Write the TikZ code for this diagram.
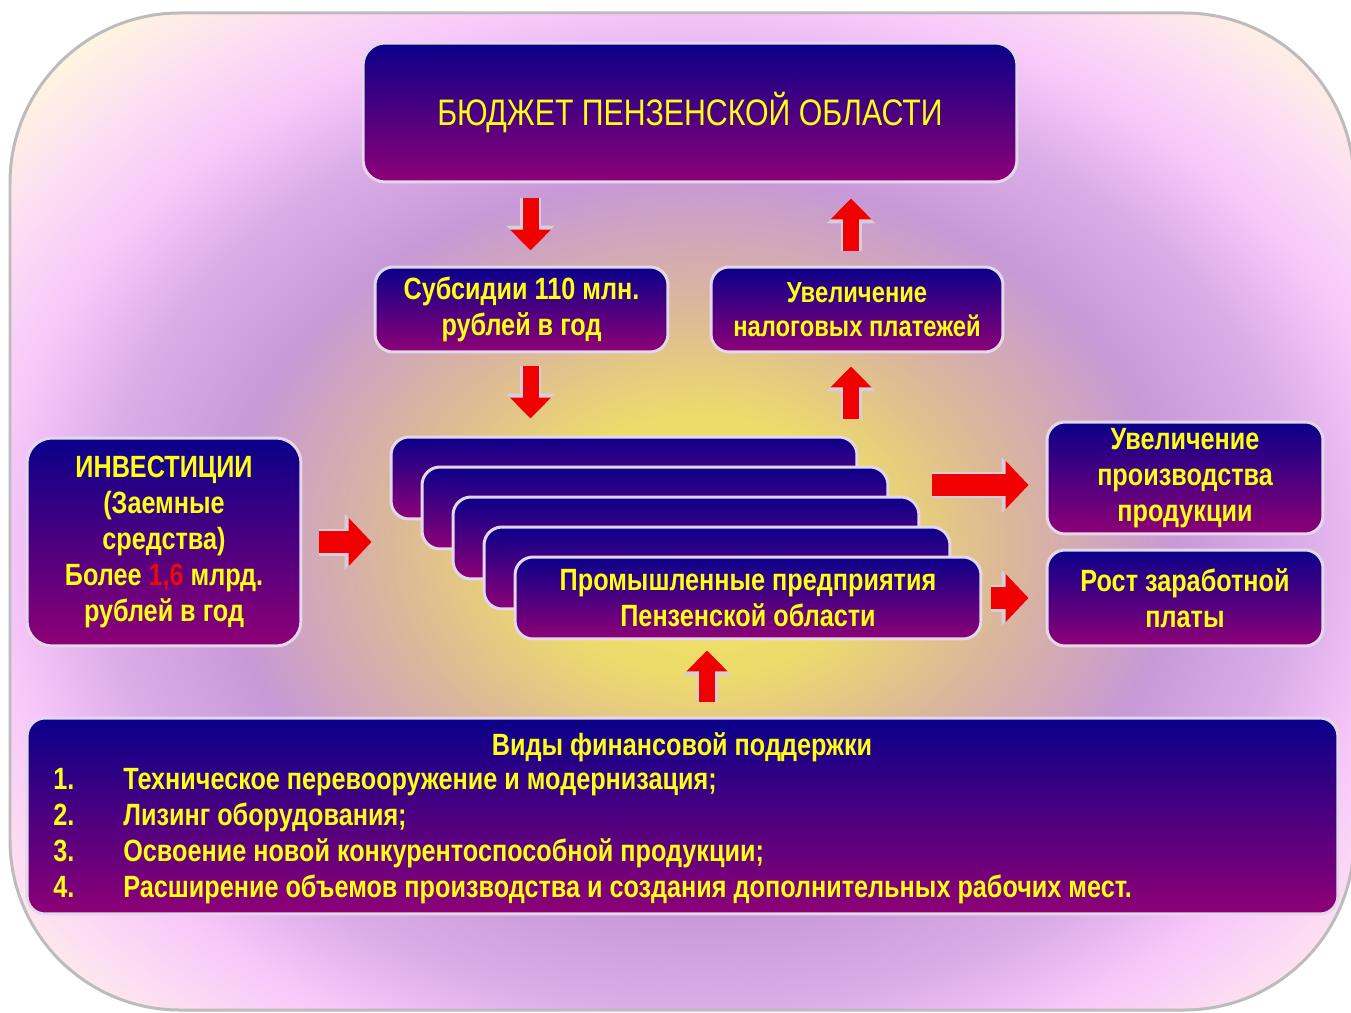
\documentclass[tikz,border=0pt]{standalone}
\usepackage{fontspec}
\setmainfont{Liberation Sans}[FakeStretch=0.82]
\usetikzlibrary{arrows.meta,positioning,calc}

\definecolor{boxtop}{RGB}{10,0,138}
\definecolor{boxbot}{RGB}{142,0,118}
\definecolor{boxedge}{RGB}{226,216,234}
\definecolor{boxtext}{RGB}{255,255,20}
\definecolor{numred}{RGB}{232,10,10}
\definecolor{arrowred}{RGB}{240,0,0}
\definecolor{arrowedge}{RGB}{214,206,220}
\definecolor{paneledge}{RGB}{188,188,188}

% glow behind the diagram, centre yellow, rim cream
\pgfdeclareradialshading{panelglow}{\pgfpoint{0bp}{0bp}}{%
  rgb(0bp)=(0.94,0.89,0.38);
  rgb(6bp)=(0.93,0.86,0.42);
  rgb(11bp)=(0.86,0.72,0.60);
  rgb(17bp)=(0.78,0.60,0.84);
  rgb(21.5bp)=(0.86,0.68,0.91);
  rgb(25bp)=(0.97,0.78,0.98);
  rgb(28.5bp)=(0.99,0.87,0.95);
  rgb(32bp)=(1,0.96,0.88);
  rgb(50bp)=(1,0.97,0.88)}

\begin{document}
\begin{tikzpicture}[x=0.02cm, y=-0.02cm,
				      every node/.style={align=center, inner sep=0pt},
				      infobox/.style={
						      draw=boxedge, line width=0.06cm, rounded corners=0.36cm,
						      top color=boxtop, bottom color=boxbot, text=boxtext,
						      font=\bfseries\fontsize{17.5}{20.5}\selectfont
					      },
				      stackbox/.style={infobox, minimum width=9.32cm, minimum height=1.64cm},
				      sidebox/.style={infobox, minimum width=5.52cm},
				      boxlabel/.style={text=boxtext, font=\bfseries\fontsize{17.5}{20.5}\selectfont},
				      blockarrow/.style={
						      arrowred, line width=0.32cm, -{Triangle[length=0.42cm, width=0.8cm]},
						      preaction={draw=arrowedge, line width=0.42cm, -{Triangle[length=0.5cm, width=0.94cm]}}
					      },
				      widearrow/.style={
						      arrowred, line width=0.44cm, -{Triangle[length=0.46cm, width=0.94cm]},
						      preaction={draw=arrowedge, line width=0.54cm, -{Triangle[length=0.54cm, width=1.08cm]}}
					      }
			      ]
			      \useasboundingbox (0,0) rectangle (1351,1013);

			      % Background panel
			      \begin{scope}
				      \clip[rounded corners=3.4cm] (10,13) rectangle (1354,1010);
				      \shade[shading=panelglow] (0,5) rectangle (1400,1085);
			      \end{scope}
			      \draw[paneledge, line width=0.06cm, rounded corners=3.4cm] (10,13) rectangle (1354,1010);

			      % Top row
			      \node[infobox, minimum width=13.08cm, minimum height=2.78cm, rounded corners=0.44cm,
				      font=\mdseries\fontsize{21}{25}\selectfont] (budget) at (690,112.5) {БЮДЖЕТ ПЕНЗЕНСКОЙ ОБЛАСТИ};
			      \node[infobox, minimum width=5.86cm, minimum height=1.7cm] (subs) at (521.5,309.5) {Субсидии 110 млн.\\рублей в год};
			      \node[infobox, minimum width=5.84cm, minimum height=1.7cm,
				      font=\bfseries\fontsize{16.5}{19.4}\selectfont] (tax) at (857,309.5) {Увеличение\\налоговых платежей};

			      % Enterprises stack
			      \node[stackbox] (st1) at (624,478) {};
			      \node[stackbox] (st2) at ($(st1)+(31,30)$) {};
			      \node[stackbox] (st3) at ($(st2)+(31,30)$) {};
			      \node[stackbox] (st4) at ($(st3)+(31,30)$) {};
			      \node[stackbox] (st5) at ($(st4)+(31,30)$) {Промышленные предприятия\\Пензенской области};

			      % Side boxes
			      \node[infobox, minimum width=5.48cm, minimum height=4.16cm, rounded corners=0.5cm] (invest) at (164,542)
				      {ИНВЕСТИЦИИ\\(Заемные\\средства)\\Более \textcolor{numred}{1,6} млрд.\\рублей в год};
			      \node[sidebox, minimum height=2.24cm] (prod) at (1185,478) {Увеличение\\производства\\продукции};
			      \node[sidebox, minimum height=1.92cm] (sal) at (1185,598) {Рост заработной\\платы};

			      % Support box
			      \node[infobox, minimum width=26.22cm, minimum height=3.92cm] (fin) at (682.5,816) {};
			      \node[boxlabel, anchor=base] (fintitle) at (682,755) {Виды финансовой поддержки};
			      \node[boxlabel, align=left, anchor=north west] (finlist) at (53,768)
				      {\makebox[1.4cm][l]{1.}Техническое перевооружение и модернизация;\\
					      \makebox[1.4cm][l]{2.}Лизинг оборудования;\\
					      \makebox[1.4cm][l]{3.}Освоение новой конкурентоспособной продукции;\\
					      \makebox[1.4cm][l]{4.}Расширение объемов производства и создания дополнительных рабочих мест.};

			      % Arrows
			      \draw[blockarrow, shorten <=0.3cm, shorten >=0.3cm] ([xshift=0.18cm]budget.south -| subs.north) -- ([xshift=0.18cm]subs.north);
			      \draw[blockarrow, shorten <=0.3cm, shorten >=0.3cm] ([xshift=-0.12cm]tax.north) -- ([xshift=-0.12cm]budget.south -| tax.north);
			      \draw[blockarrow, shorten <=0.26cm, shorten >=0.34cm] ([xshift=0.18cm]subs.south) -- ([xshift=0.18cm]st1.north -| subs.south);
			      \draw[blockarrow, shorten <=0.34cm, shorten >=0.26cm] ([xshift=-0.12cm]st1.north -| tax.south) -- ([xshift=-0.12cm]tax.south);
			      \draw[widearrow, shorten <=0.34cm, shorten >=0.36cm] (invest.east) -- (invest.east -| st1.west);
			      \draw[widearrow, shorten <=0.24cm, shorten >=0.34cm] ([yshift=-0.14cm]st3.east |- prod.west) -- ([yshift=-0.14cm]prod.west);
			      \draw[widearrow, shorten <=0.18cm, shorten >=0.34cm] (st5.east |- sal.west) -- (sal.west);
			      \draw[blockarrow, shorten <=0.3cm, shorten >=0.2cm] ([xshift=-0.82cm]st5.south |- fin.north) -- ([xshift=-0.82cm]st5.south);
		      \end{tikzpicture}
\end{document}
